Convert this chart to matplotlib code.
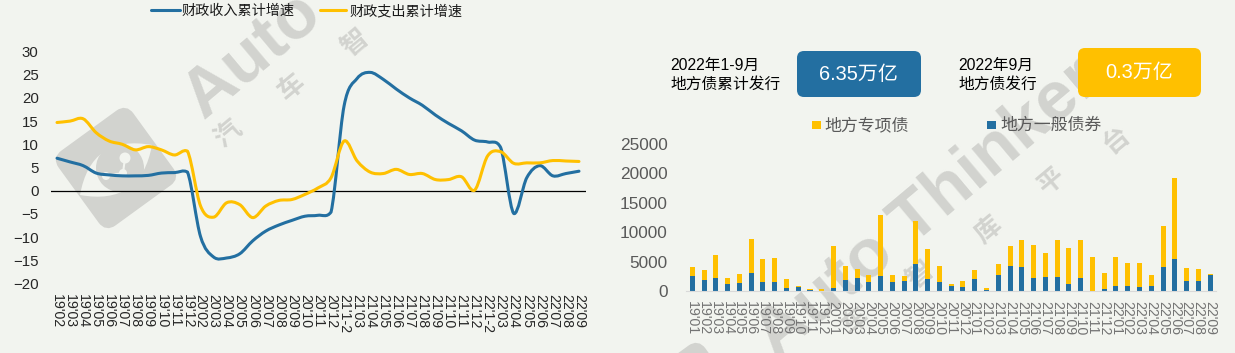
# coding=utf-8
import matplotlib
matplotlib.use('Agg')
import matplotlib.pyplot as plt
import numpy as np
from matplotlib.path import Path
from matplotlib.patches import PathPatch, FancyBboxPatch, Circle
from matplotlib.transforms import Affine2D

plt.rcParams['font.family'] = ['Liberation Sans', 'Noto Sans CJK SC']

# left chart
line_labels = ["19'02", "19'03", "19'04", "19'05", "19'06", "19'07", "19'08", "19'09", "19'10", "19'11", "19'12",
               "20'02", "20'03", "20'04", "20'05", "20'06", "20'07", "20'08", "20'09", "20'10", "20'11", "20'12",
               "21'1-2", "21'03", "21'04", "21'05", "21'06", "21'07", "21'08", "21'09", "21'10", "21'11", "21'12",
               "22'1-2", "22'03", "22'04", "22'05", "22'06", "22'07", "22'08", "22'09"]
revenue = [7.0, 6.2, 5.4, 3.8, 3.4, 3.2, 3.2, 3.3, 3.8, 3.9, 4.0,
           -9.9, -14.3, -14.5, -13.6, -10.8, -8.7, -7.4, -6.4, -5.5, -5.3, -4.6,
           18.3, 24.2, 25.5, 24.0, 21.9, 20.0, 18.4, 16.3, 14.5, 12.9, 10.9,
           10.5, 9.3, -4.9, 2.8, 5.4, 3.2, 3.7, 4.2]
spending = [14.7, 15.0, 15.5, 12.5, 10.7, 10.0, 8.8, 9.5, 8.8, 7.7, 8.5,
            -3.3, -5.7, -2.6, -3.0, -5.8, -3.3, -2.1, -1.9, -0.8, 0.6, 2.8,
            10.7, 6.4, 4.0, 3.7, 4.6, 3.5, 3.7, 2.4, 2.4, 3.0, 0.1,
            7.5, 8.4, 5.9, 6.0, 6.0, 6.5, 6.4, 6.3]

# right chart
bar_labels = ["19'01", "19'02", "19'03", "19'04", "19'05", "19'06", "19'07", "19'08", "19'09", "19'10", "19'11", "19'12",
              "20'01", "20'02", "20'03", "20'04", "20'05", "20'06", "20'07", "20'08", "20'09", "20'10", "20'11", "20'12",
              "21'01", "21'02", "21'03", "21'04", "21'05", "21'06", "21'07", "21'08", "21'09", "21'10", "21'11", "21'12",
              "22'01", "22'02", "22'03", "22'04", "22'05", "22'06", "22'07", "22'08", "22'09"]
general = [2550, 1870, 2210, 1190, 1360, 3060, 1530, 1530, 510, 680, 170, 0,
           510, 1870, 2210, 1530, 2550, 1530, 1700, 4590, 2040, 1530, 850, 680,
           2040, 170, 2720, 4250, 4080, 2210, 2380, 2380, 1190, 2210, 0, 340,
           850, 850, 680, 850, 4080, 5440, 1700, 1700, 2720]
special = [1530, 1700, 3910, 1020, 1530, 5785, 3910, 4080, 1530, 170, 170, 340,
           7140, 2380, 1530, 1190, 10380, 1190, 850, 7310, 5100, 2720, 340, 1020,
           1530, 340, 1870, 3400, 4590, 5610, 4080, 6290, 6120, 6460, 5780, 2720,
           4930, 3910, 4080, 1870, 6970, 13770, 2210, 2040, 170]

BG = '#F2F4EF'
BLUE = '#236FA1'
YELLOW = '#FFC000'
WM = '#D2D3CF'
W, H = 1235, 353


def axes_px(left, top, right, bottom):
    return fig.add_axes([left / W, 1 - bottom / H, (right - left) / W, (bottom - top) / H])


def smooth_path(xs, ys, margin=0.6):
    # one bezier per segment, like a spreadsheet's smoothed line, with the overshoot held back
    pts = np.column_stack([xs, ys]).astype(float)
    verts = [pts[0]]
    for i in range(len(pts) - 1):
        p0 = pts[max(i - 1, 0)]
        p1 = pts[i]
        p2 = pts[i + 1]
        p3 = pts[min(i + 2, len(pts) - 1)]
        c1 = p1 + (p2 - p0) / 6
        c2 = p2 - (p3 - p1) / 6
        lo, hi = min(p1[1], p2[1]) - margin, max(p1[1], p2[1]) + margin
        c1[1] = np.clip(c1[1], lo, hi)
        c2[1] = np.clip(c2[1], lo, hi)
        verts += [c1, c2, p2]
    codes = [Path.MOVETO] + [Path.CURVE4] * (len(verts) - 1)
    return Path(verts, codes)


fig = plt.figure(figsize=(W / 100, H / 100), dpi=100, facecolor=BG)

# overlay in pixel coordinates: watermark, legends, boxes
bg = fig.add_axes([0, 0, 1, 1], zorder=0)
bg.set_xlim(0, W)
bg.set_ylim(H, 0)
bg.axis('off')

wm_text = [('Auto', 203, 120), ('Auto Thinker', 776, 360)]
for s, x, y in wm_text:
    bg.text(x, y, s, color=WM, fontsize=50, fontweight='bold', rotation=40, rotation_mode='anchor',
            ha='left', va='baseline', zorder=0.5)
wm_chars = [('汽', 228, 134), ('车', 292, 87), ('智', 355, 43), ('车', 856, 321), ('智', 920, 275),
            ('库', 988, 230), ('平', 1052, 182), ('台', 1117, 140)]
for s, x, y in wm_chars:
    bg.text(x, y, s, color=WM, fontsize=19, fontweight='bold', rotation=40, ha='center', va='center', zorder=0.5)

for cx, cy in [(116, 168), (688, 403)]:
    rot = Affine2D().rotate_deg_around(cx, cy, 54) + bg.transData
    bg.add_patch(FancyBboxPatch((cx - 42, cy - 42), 84, 84, boxstyle='round,pad=0,rounding_size=8',
                                fc=WM, ec=WM, lw=6, transform=rot, zorder=0.5))
    eye = Path([(cx - 36, cy + 27), (cx - 25, cy - 34), (cx + 36, cy - 23), (cx + 25, cy + 38), (cx - 36, cy + 27)],
               [Path.MOVETO, Path.CURVE3, Path.CURVE3, Path.CURVE3, Path.CURVE3])
    bg.add_patch(PathPatch(eye, fc=BG, ec='none', zorder=0.6))
    bg.add_patch(Circle((cx + 4, cy), 24, fc=WM, ec='none', zorder=0.7))
    bg.plot([cx + 9, cx + 7, cx - 10], [cy - 10, cy + 5, cy + 8], color=BG, lw=1.5, zorder=0.8)
    bg.add_patch(Circle((cx + 9, cy - 10), 5.5, fc=BG, ec='none', zorder=0.8))
    bg.add_patch(Circle((cx + 7, cy + 5), 4, fc=BG, ec='none', zorder=0.8))
    bg.add_patch(Circle((cx - 10, cy + 8), 4, fc=BG, ec='none', zorder=0.8))

# legend of the left chart
bg.plot([151, 180], [10, 10], color=BLUE, lw=2.2, solid_capstyle='round')
bg.text(181, 11, '财政收入累计增速', fontsize=10.2, color='#1A1A1A', va='center')
bg.plot([320, 346], [10, 10], color=YELLOW, lw=2.2, solid_capstyle='round')
bg.text(349, 11, '财政支出累计增速', fontsize=10.2, color='#1A1A1A', va='center')

# boxes
bg.text(670, 75, '2022年1-9月\n地方债累计发行', fontsize=11.3, color='black', va='center', linespacing=1.38)
bg.text(958, 75, '2022年9月\n地方债发行', fontsize=11.3, color='black', va='center', linespacing=1.38)
bg.add_patch(FancyBboxPatch((797, 51), 124, 46, boxstyle='round,pad=0,rounding_size=7', fc=BLUE, ec='none'))
bg.add_patch(FancyBboxPatch((1078, 48), 123, 49, boxstyle='round,pad=0,rounding_size=7', fc=YELLOW, ec='none'))
bg.text(858, 74, '6.35万亿', fontsize=14.4, color='white', ha='center', va='center')
bg.text(1139, 73, '0.3万亿', fontsize=14.4, color='white', ha='center', va='center')

# legend of the right chart
bg.add_patch(plt.Rectangle((812, 121), 9, 8, fc=YELLOW, ec='none'))
bg.text(824, 125, '地方专项债', fontsize=12.2, color='#595959', va='center')
bg.add_patch(plt.Rectangle((987, 121), 9, 8, fc=BLUE, ec='none'))
bg.text(1000, 125, '地方一般债券', fontsize=12.2, color='#595959', va='center')

# left chart
ax1 = axes_px(50.5, 51.5, 585.5, 283.5)
ax1.set_zorder(1)
ax1.patch.set_alpha(0)
x1 = np.arange(len(line_labels))
ax1.add_patch(PathPatch(smooth_path(x1, revenue), fc='none', ec=BLUE, lw=2.2, capstyle='round', zorder=3))
ax1.add_patch(PathPatch(smooth_path(x1, spending), fc='none', ec=YELLOW, lw=2.2, capstyle='round', zorder=3))
ax1.axhline(0, color='black', lw=0.9, zorder=1)
ax1.set_xlim(-0.5, len(line_labels) - 0.5)
ax1.set_ylim(-20, 30)
ax1.set_yticks(np.arange(-20, 31, 5))
ax1.set_xticks(x1)
ax1.set_xticklabels(line_labels, rotation=270, fontsize=10.2, color='#262626')
ax1.tick_params(axis='x', length=0, pad=7.5)
ax1.tick_params(axis='y', length=0, pad=8.5, labelsize=10.8, labelcolor='#262626')
for s in ax1.spines.values():
    s.set_visible(False)

# right chart
ax2 = axes_px(686.4, 144, 1216, 291)
ax2.set_zorder(1)
ax2.patch.set_alpha(0)
x2 = np.arange(len(bar_labels))
ax2.bar(x2, general, width=0.43, color=BLUE)
ax2.bar(x2, special, width=0.43, bottom=general, color=YELLOW)
ax2.set_xlim(-0.5, len(bar_labels) - 0.5)
ax2.set_ylim(0, 25000)
ax2.set_yticks(np.arange(0, 25001, 5000))
ax2.set_xticks(x2)
ax2.set_xticklabels(bar_labels, rotation=270, fontsize=10.2, color='#737373')
ax2.tick_params(axis='x', length=0, pad=7)
ax2.tick_params(axis='y', length=0, pad=13.5, labelsize=12.4, labelcolor='#595959')
for name, s in ax2.spines.items():
    s.set_visible(name == 'bottom')
ax2.spines['bottom'].set_color('#D9D9D9')

fig.savefig('out.png', dpi=100, facecolor=BG)
